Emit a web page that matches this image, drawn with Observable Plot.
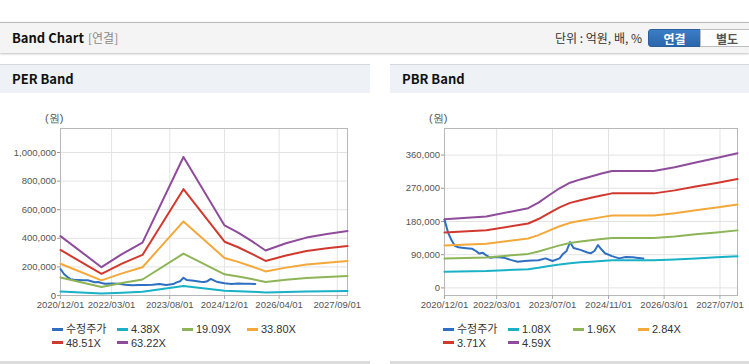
<!DOCTYPE html>
<html><head><meta charset="utf-8">
<script src="https://cdn.jsdelivr.net/npm/d3@7"></script>
<script src="https://cdn.jsdelivr.net/npm/@observablehq/plot@0.6"></script>
<style>
html,body{margin:0;padding:0;background:#fff;}
body{width:749px;height:364px;position:relative;overflow:hidden;font-family:"Noto Sans CJK KR","Liberation Sans",sans-serif;}
.abs{position:absolute;white-space:nowrap;}
#hdr{left:0;top:22px;width:749px;height:30px;background:#f4f4f4;border-top:1px solid #b9b9b9;box-shadow:0 1px 2px rgba(0,0,0,0.25);}
.ttl{font-weight:bold;font-size:13px;color:#111;line-height:16px;}
.sub{font-size:12px;color:#8a8a8a;line-height:16px;}
.unit{font-size:12px;color:#333;line-height:16px;}
.btn{height:18px;line-height:18px;font-size:12px;font-weight:bold;text-align:center;box-sizing:border-box;}
.ph{top:64px;height:29px;background:#eef2f7;border-top:1px solid #d5d8dc;box-sizing:border-box;}
.won{font-size:11px;color:#555;font-family:"Liberation Sans",sans-serif;}
.leg{font-size:11px;color:#333;font-family:"Liberation Sans","Noto Sans CJK KR",sans-serif;line-height:13px;}
.sw{display:inline-block;width:11px;height:3px;vertical-align:middle;margin-right:3px;position:relative;top:-1px;}
.chart{position:absolute;}
.foot{top:361px;height:3px;background:#dcdcdc;}
</style></head>
<body>
<div id="hdr" class="abs"></div>
<div class="abs ttl" style="left:12px;top:30px;">Band Chart</div>
<div class="abs sub" style="left:88px;top:30px;">[연결]</div>
<div class="abs unit" style="right:107px;top:30px;">단위 : 억원, 배, %</div>
<div class="abs btn" style="left:648px;top:29px;width:53px;background:linear-gradient(#3b7dc6,#2a66ab);border:1px solid #2a5f9e;border-radius:3px 0 0 3px;color:#fff;">연결</div>
<div class="abs btn" style="left:700px;top:29px;width:54px;background:#fdfdfd;border:1px solid #bdbdbd;color:#555;">별도</div>

<div class="abs ph" style="left:0;width:370px;"></div>
<div class="abs ph" style="left:390px;width:359px;"></div>
<div class="abs ttl" style="left:12px;top:71px;">PER Band</div>
<div class="abs ttl" style="left:402px;top:71px;">PBR Band</div>

<div class="abs won" style="left:45px;top:111px;">(원)</div>
<div class="abs won" style="left:429px;top:111px;">(원)</div>

<div id="per" class="chart" style="left:0;top:100px;width:370px;height:220px;"></div>
<div id="pbr" class="chart" style="left:385px;top:100px;width:364px;height:220px;"></div>

<div id="perLeg"></div>
<div id="pbrLeg"></div>

<div class="abs foot" style="left:0;width:370px;"></div>
<div class="abs foot" style="left:390px;width:359px;"></div>

<script>
// ---------- data ----------
const seriesColors = ["#2f6fc1", "#19b1c6", "#8db557", "#f4a83a", "#d2392e", "#8e4c9b"];

const priceLabel = "수정주가";
const priceDates = ["2020-12-01","2021-01-01","2021-02-01","2021-03-01","2021-04-01","2021-05-01","2021-07-01","2021-08-01","2021-09-01","2021-10-01","2021-11-01","2021-12-01","2022-01-01","2022-03-01","2022-05-01","2022-07-01","2022-09-01","2022-11-01","2023-01-01","2023-03-01","2023-05-01","2023-07-01","2023-09-01","2023-10-01","2023-11-01","2023-12-01","2024-01-01","2024-03-01","2024-05-01","2024-06-01","2024-07-01","2024-08-01","2024-09-01","2024-10-01","2024-12-01","2025-02-01","2025-04-01","2025-06-01","2025-07-01","2025-09-01"];
const priceValues = [185000,150000,129000,114000,110000,109000,107000,106000,100000,93000,95000,88000,82000,84000,82000,76000,71000,73000,74000,75000,80000,73000,80000,92000,100000,124000,108000,103000,96000,94000,100000,116000,104000,94000,86000,80000,84000,83000,82000,80000];

// PER band
const perLabels = ["4.38X", "19.09X", "33.80X", "48.51X", "63.22X"];
const perDates = ["2020-12-01","2021-12-01","2022-06-01","2022-12-01","2023-12-01","2024-12-01","2025-04-01","2025-08-01","2025-12-01","2026-06-01","2026-12-01","2027-06-01","2027-12-01"];
const per438  = [28800, 13700, 20100, 25600, 67100, 34000, 30500, 26300, 21800, 25300, 28100, 29800, 31300];
const per1909 = [125300, 59800, 87600, 111700, 292600, 148000, 132900, 114700, 95100, 110100, 122300, 129800, 136200];
const per3380 = [221900, 105900, 155000, 197800, 518200, 262000, 235200, 203100, 168400, 195000, 216500, 229800, 241100];
const per4851 = [318400, 151900, 222500, 283900, 743700, 376000, 337600, 291500, 241700, 279900, 310800, 329900, 346100];
const per6322 = [415000, 198000, 290000, 370000, 969000, 490000, 440000, 380000, 315000, 365000, 405000, 430000, 451000];
const perTicksX = ["2020-12-01","2022-03-01","2023-08-01","2024-12-01","2026-04-01","2027-09-01"];
const perTicksY = [0, 200000, 400000, 600000, 800000, 1000000];

// PBR band
const pbrLabels = ["1.08X", "1.96X", "2.84X", "3.71X", "4.59X"];
const pbrDates = ["2020-12-01","2021-12-01","2022-12-01","2023-03-01","2023-06-01","2023-09-01","2023-12-01","2024-03-01","2024-06-01","2024-09-01","2024-12-01","2025-12-01","2026-06-01","2026-12-01","2027-06-01","2027-12-01"];
const pbr108 = [43800, 45500, 50800, 54400, 59100, 63500, 67100, 69200, 71100, 72900, 74600, 74600, 76900, 80000, 82800, 85900];
const pbr196 = [79400, 82600, 92200, 98700, 107200, 115300, 121700, 125500, 129000, 132400, 135400, 135400, 139600, 145200, 150300, 155900];
const pbr284 = [115100, 119700, 133700, 142900, 155300, 167100, 176300, 181900, 186900, 191800, 196100, 196100, 202300, 210400, 217800, 225800];
const pbr371 = [150300, 156400, 174600, 186700, 202900, 218200, 230400, 237600, 244100, 250600, 256200, 256200, 264300, 274800, 284500, 295000];
const pbr459 = [186000, 193500, 216000, 231000, 251000, 270000, 285000, 294000, 302000, 310000, 317000, 317000, 327000, 340000, 352000, 365000];
const pbrTicksX = ["2020-12-01","2022-03-01","2023-07-01","2024-11-01","2026-03-01","2027-07-01"];
const pbrTicksY = [0, 90000, 180000, 270000, 360000];

const xStart = "2020-12-01", xEnd = "2027-12-01";

// ---------- drawing ----------
const rows = (dates, vals) => dates.map((d, i) => ({date: new Date(d), value: vals[i]}));
const fmtDate = d3.utcFormat("%Y/%m/%d");

function bandChart({w, h, ml, mr, yDomain, ticksX, ticksY, bandDates, bands}) {
  const tx = ticksX.map(d => new Date(d));
  const lines = [];
  lines.push(Plot.line(rows(priceDates, priceValues), {x: "date", y: "value", stroke: seriesColors[0], strokeWidth: 2}));
  bands.forEach((b, i) => lines.push(Plot.line(rows(bandDates, b), {x: "date", y: "value", stroke: seriesColors[i + 1], strokeWidth: 2})));
  return Plot.plot({
    width: w, height: h,
    marginLeft: ml, marginRight: mr, marginTop: 28, marginBottom: 25,
    x: {type: "utc", domain: [new Date(xStart), new Date(xEnd)]},
    y: {domain: yDomain},
    style: {fontFamily: "'Liberation Sans', Arial, sans-serif", fontSize: "9.5px", color: "#555", background: "transparent", overflow: "visible"},
    marks: [
      Plot.gridY(ticksY, {stroke: "#e3e3e3", strokeOpacity: 1}),
      Plot.gridX(tx, {stroke: "#e3e3e3", strokeOpacity: 1}),
      Plot.frame({stroke: "#b8b8b8"}),
      Plot.axisY(ticksY, {tickSize: 3, tickPadding: 1.5, tickFormat: d3.format(","), stroke: "#999", label: null}),
      Plot.axisX(tx, {tickSize: 4, tickPadding: 2, tickFormat: fmtDate, stroke: "#aaa", label: null}),
      ...lines
    ]
  });
}

document.getElementById("per").appendChild(bandChart({
  w: 370, h: 220, ml: 60, mr: 23, yDomain: [0, 1168000],
  ticksX: perTicksX, ticksY: perTicksY, bandDates: perDates,
  bands: [per438, per1909, per3380, per4851, per6322]
}));
document.getElementById("pbr").appendChild(bandChart({
  w: 364, h: 220, ml: 59, mr: 12, yDomain: [-20600, 432000],
  ticksX: pbrTicksX, ticksY: pbrTicksY, bandDates: pbrDates,
  bands: [pbr108, pbr196, pbr284, pbr371, pbr459]
}));

function legend(id, left, labels) {
  const all = [priceLabel, ...labels];
  const host = document.getElementById(id);
  all.forEach((t, i) => {
    const col = i % 4, row = Math.floor(i / 4);
    const el = document.createElement("div");
    el.className = "abs leg";
    el.style.left = (left + col * 65) + "px";
    el.style.top = (323 + row * 13.5) + "px";
    el.innerHTML = `<span class="sw" style="background:${seriesColors[i]}"></span>${t}`;
    host.appendChild(el);
  });
}
legend("perLeg", 52, perLabels);
legend("pbrLeg", 443, pbrLabels);
</script>
</body></html>
